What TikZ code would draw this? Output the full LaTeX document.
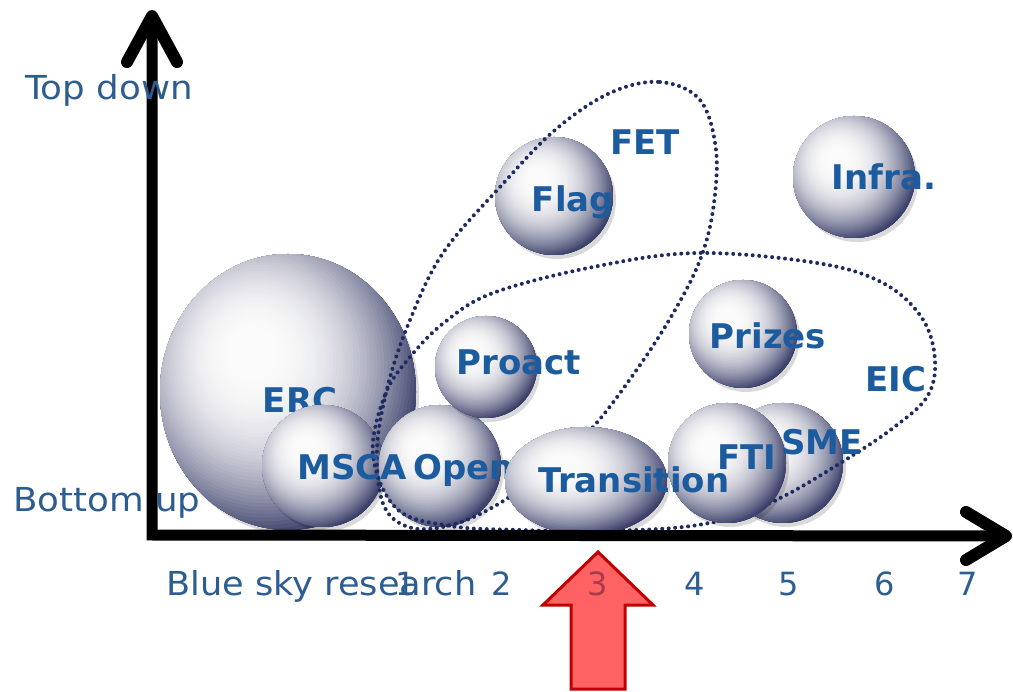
\documentclass[tikz,border=0pt]{standalone}
\usepackage{fontspec}
\usepackage{graphicx}
\setmainfont{DejaVu Sans}
\usetikzlibrary{shapes.geometric}
\definecolor{bubdark}{HTML}{3A3F6A}
\definecolor{labblue}{HTML}{1C5C9E}
\definecolor{axblue}{HTML}{2D5D90}
\definecolor{dotc}{HTML}{1E2B60}
\definecolor{arrowfill}{HTML}{FF6262}
\definecolor{arrowdraw}{HTML}{C00000}
\definecolor{threec}{HTML}{A83A4E}
\tikzset{
  bubnode/.style={ellipse, inner sep=0pt},
  bubshadow/.style={fill=black, opacity=0.15},
  lab/.style={text=labblue, font=\fontsize{34}{34}\selectfont\bfseries, inner sep=0pt, anchor=base},
  axlab/.style={text=axblue, font=\fontsize{33}{33}\selectfont, inner sep=0pt, anchor=base west},
  numlab/.style={text=axblue, font=\fontsize{32}{32}\selectfont, inner sep=0pt, anchor=base},
  dotline/.style={draw=dotc, line width=4pt, line cap=round, dash pattern=on 0pt off 6.5pt},
  axisline/.style={draw=black, line width=11pt},
  chevron/.style={draw=black, line width=12pt, line cap=round, line join=round},
  redarrow/.style={fill=arrowfill, draw=arrowdraw, line width=3pt, line join=miter}
}
\newcommand{\wide}[1]{\scalebox{1.08}[1]{#1}}
% \bub{name}{x}{y}{rx}{ry}
\newcommand{\bub}[5]{%
  \node[bubnode, minimum width={2*#4pt}, minimum height={2*#5pt}] (#1) at (#2,#3) {};
  \fill[bubshadow] (#2+3,#3+4) ellipse [x radius=#4, y radius=#5];
  \begin{scope}
    \clip (#2,#3) ellipse [x radius=#4, y radius=#5];
    \begin{scope}[shift={(#2,#3)}, x=#4pt, y=#5pt]
      \foreach \i in {0,...,48} {
        \pgfmathsetmacro\tt{1-\i/48*0.88}
        \pgfmathsetmacro\pp{100*min(1,((\tt-0.11)/0.82))^2.2}
        \fill[bubdark!\pp!white!96!gray] ({-0.3+0.15*\tt},{0.3-0.15*\tt}) circle [radius={1.3*\tt}];
      }
    \end{scope}
  \end{scope}
}
\begin{document}
\begin{tikzpicture}[x=1pt,y=-1pt]
\useasboundingbox (0,0) rectangle (1013,692);

% bubbles (back layer)
\bub{erc}{288}{392}{128}{138}
\node[lab] (ercl) at (300,413) {ERC};
\bub{msca}{323}{466}{61}{61}
\bub{open}{440}{466}{61}{61}
\node[lab, anchor=base west] (openl) at (413,480) {Open};
\bub{proact}{486}{367}{51}{51}
\bub{flag}{554}{196}{59}{59}
\bub{infra}{854}{177}{61}{61}
\bub{prizes}{743}{334}{54}{54}
\bub{sme}{783}{463}{60}{60}

% dotted groupings
\draw[dotline] plot[smooth cycle, tension=0.6] coordinates {
  (610,93) (660,82) (700,100) (716,150) (713,210) (700,260) (675,310)
  (640,365) (593,427) (545,470) (500,503) (455,524) (412,528) (384,506)
  (377,450) (388,385) (410,320) (443,253) (500,187) (555,130)};
\draw[dotline] plot[smooth cycle, tension=0.6] coordinates {
  (373,455) (385,395) (410,357) (445,322) (493,293) (593,267) (697,253)
  (817,263) (883,283) (922,318) (935,360) (927,397) (893,428) (850,457)
  (790,493) (740,515) (683,527) (600,531) (520,530) (450,526) (397,509)};

% bubbles (front layer)
\bub{trans}{586}{481}{81}{54}
\bub{fti}{727}{463}{59}{60}

% axes
\coordinate (O) at (152,535);
\coordinate (ytip) at (152,16);
\coordinate (xtip) at (1006,536);
\draw[axisline] (ytip) -- (O) -- (xtip);
\draw[chevron] (ytip) ++(-25,46) -- (ytip) -- ++(25,46);
\draw[chevron] (xtip) ++(-40,-24) -- (xtip) -- ++(-40,24);

% labels
\node[lab] (mscal) at (352,480) {MSCA};
\node[lab] (proactl) at (519,375) {Proact};
\node[lab] (flagl) at (573,212) {Flag};
\node[lab] (fetl) at (645,155) {FET};
\node[lab] (infral) at (884,190) {Infra.};
\node[lab] (prizesl) at (768,349) {Prizes};
\node[lab] (eicl) at (896,392) {EIC};
\node[lab] (smel) at (822,455) {SME};
\node[lab] (ftil) at (747,470) {FTI};
\node[lab] (transl) at (634,493) {Transition};

\node[axlab] (top) at (25,100) {\wide{Top down}};
\node[axlab] (bottom) at (13,512) {\wide{Bottom up}};
\node[axlab] (blue) at (166,596) {\scalebox{1.065}[1]{Blue sky research}};
\node[numlab] (n1) at (406,596) {1};
\node[numlab] (n2) at (502,596) {2};
\node[numlab] (n4) at (695,596) {4};
\node[numlab] (n5) at (789,596) {5};
\node[numlab] (n6) at (885,596) {6};
\node[numlab] (n7) at (968,596) {7};

% red arrow
\coordinate (rtip) at (598,552);
\draw[redarrow] (rtip) -- (653,605) -- (625,605) -- (625,689) -- (571,689)
  -- (571,605) -- (543,605) -- cycle;
\node[numlab, text=threec] (n3) at (598,596) {3};
\end{tikzpicture}
\end{document}
